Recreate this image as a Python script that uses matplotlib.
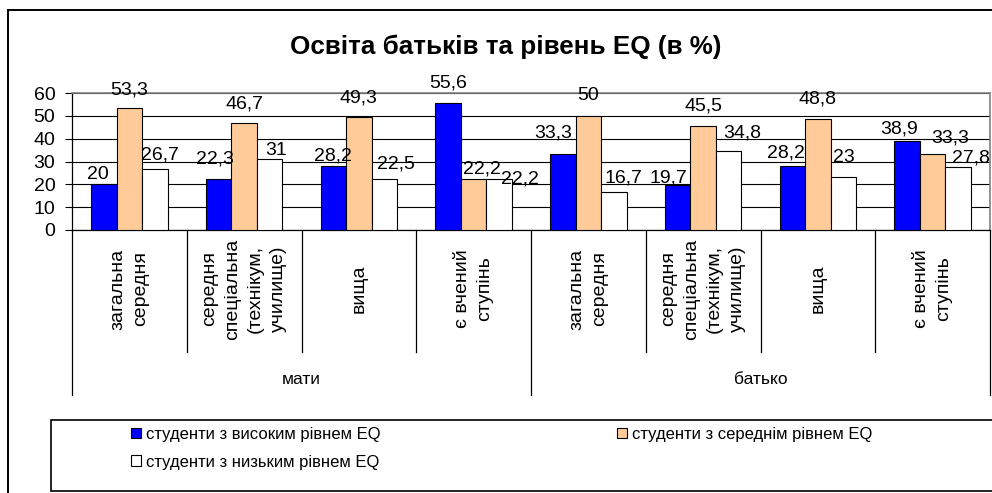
import matplotlib
matplotlib.use("Agg")
import matplotlib.pyplot as plt
from matplotlib.lines import Line2D
from matplotlib.patches import Rectangle
import numpy as np

plt.rcParams['font.family'] = ['Liberation Sans', 'DejaVu Sans']

title = "Освіта батьків та рівень EQ (в %)"
groups = ["мати", "батько"]
subcats = ["загальна\nсередня", "середня\nспеціальна\n(технікум,\nучилище)", "вища", "є вчений\nступінь"]
series_names = ["студенти з високим рівнем EQ", "студенти з середнім рівнем EQ", "студенти з низьким рівнем EQ"]
high = [20, 22.3, 28.2, 55.6, 33.3, 19.7, 28.2, 38.9]
medium = [53.3, 46.7, 49.3, 22.2, 50, 45.5, 48.8, 33.3]
low = [26.7, 31, 22.5, 22.2, 16.7, 34.8, 23, 27.8]
yticks = [0, 10, 20, 30, 40, 50, 60]

# manual label placement (pixel offsets from bar top centre), as in the source chart
label_dx_high = [-5.5, -4, 0, 0, -10, -9, -6, -8]
label_dy_high = [5, 16, 5, 16, 16, 3, 8, 8]
label_dx_med = [-0.5, 0, 0, 8, 0, 0, 0, 18]
label_dy_med = [14, 15, 15, 6, 16, 16, 15, 11]
label_dx_low = [5, 6, 12, 21, 10, 14, 0, 13]
label_dy_low = [10, 4, 10, -4, 9, 13, 15, 4]

colors = ["#0000FF", "#FFCC99", "#FFFFFF"]
W, H = 992, 493
PX = 0.72  # points per pixel at 100 dpi
fig = plt.figure(figsize=(W / 100, H / 100), dpi=100)

# outer chart border
fig.add_artist(Line2D([8 / W, 8 / W], [0, 1 - 10 / H], color="black", lw=1.4, transform=fig.transFigure))
fig.add_artist(Line2D([8 / W, 1], [1 - 10 / H, 1 - 10 / H], color="black", lw=1.4, transform=fig.transFigure))

ax = fig.add_axes([72 / W, 1 - 230 / H, 918 / W, 137 / H])
n = len(high)
x = np.arange(n)
bw = 1 / 4.5
data = [high, medium, low]
offs = [(label_dx_high, label_dy_high), (label_dx_med, label_dy_med), (label_dx_low, label_dy_low)]
bars = []
for i, (vals, col) in enumerate(zip(data, colors)):
    b = ax.bar(x + (i - 1) * bw, vals, bw, color=col, edgecolor="black", linewidth=0.8, zorder=3,
               label=series_names[i])
    bars.append(b)
    dxs, dys = offs[i]
    for xi, v, dx, dy in zip(x, vals, dxs, dys):
        ax.annotate(f"{v:g}".replace(".", ","), (xi + (i - 1) * bw, v), xytext=(dx * PX, dy * PX),
                    textcoords="offset points", ha="center", va="baseline", fontsize=14, zorder=5,
                    annotation_clip=False)

ax.set_xlim(-0.5, n - 0.5)
ax.set_ylim(0, 60)
ax.set_yticks(yticks)
ax.set_yticklabels([str(t) for t in yticks], fontsize=14)
ax.tick_params(axis="y", direction="out", length=5, width=0.8, pad=7)
ax.set_xticks([])
ax.yaxis.grid(True, color="black", linewidth=0.8)
ax.set_axisbelow(True)
for s in ["top", "right"]:
    ax.spines[s].set_color("#808080")
    ax.spines[s].set_linewidth(1.2)
for s in ["left", "bottom"]:
    ax.spines[s].set_color("black")
    ax.spines[s].set_linewidth(0.9)

trans = ax.get_xaxis_transform()
inner_bottom = -(352 - 230) / 137
outer_bottom = -(395 - 230) / 137
for k in range(n + 1):
    xb = k - 0.5
    yb = outer_bottom if k % 4 == 0 else inner_bottom
    ax.plot([xb, xb], [0, yb], color="black", lw=0.9, transform=trans, clip_on=False)

for k in range(n):
    ax.text(k, -(289 - 230) / 137, subcats[k % 4], rotation=90, ha="center", va="center",
            multialignment="center", fontsize=14, linespacing=1.45, transform=trans)
for g, name in enumerate(groups):
    ax.text(g * 4 + 1.5, -(380 - 230) / 137, name, ha="center", va="center", fontsize=12.5, transform=trans)

fig.text(506 / W, 1 - 47 / H, title, ha="center", va="center", fontsize=18.7, fontweight="bold")

# legend box
fig.add_artist(Rectangle((51 / W, 1 - 491 / H), 1.0, (491 - 420) / H, transform=fig.transFigure,
                         facecolor="white", edgecolor="black", lw=1.2))
handles = [bars[0], bars[2], bars[1]]
labels = [series_names[0], series_names[2], series_names[1]]
leg = fig.legend(handles, labels, loc="upper left", bbox_to_anchor=(131 / W, 1 - 427 / H),
                 ncol=2, frameon=False, fontsize=12, handlelength=0.6, handleheight=0.6,
                 handletextpad=0.3, columnspacing=14.2, labelspacing=0.75, borderpad=0, borderaxespad=0)

fig.savefig("out.png", dpi=100)
